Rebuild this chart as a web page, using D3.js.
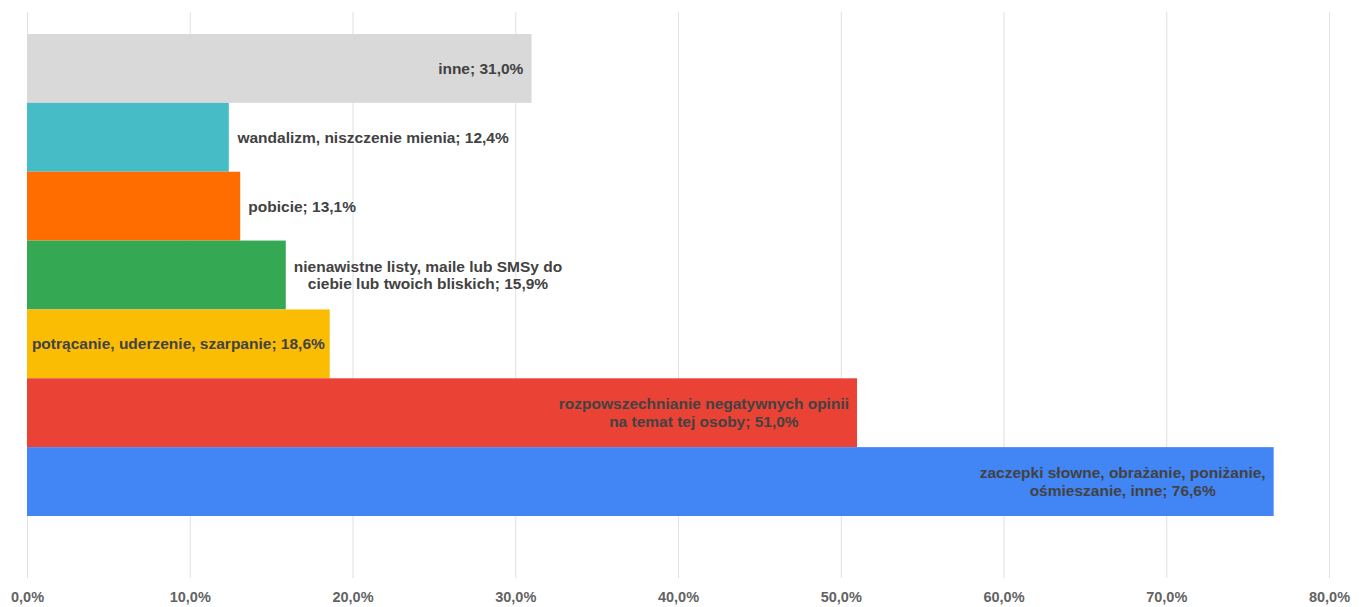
<!DOCTYPE html>
<html>
<head>
<meta charset="utf-8">
<script src="https://cdn.jsdelivr.net/npm/d3@7"></script>
<style>
  body { margin: 0; background: #fff; }
  svg text { font-family: "Liberation Sans", Arial, sans-serif; font-weight: bold; }
</style>
</head>
<body>
<div class="chart-box"></div>
<script>
let width = 1362;
let height = 607;

// categories from top to bottom, label lines as shown on the chart
let categories = [
  "inne",
  "wandalizm, niszczenie mienia",
  "pobicie",
  "nienawistne listy, maile lub SMSy do ciebie lub twoich bliskich",
  "potrącanie, uderzenie, szarpanie",
  "rozpowszechnianie negatywnych opinii na temat tej osoby",
  "zaczepki słowne, obrażanie, poniżanie, ośmieszanie, inne"
];
let labelLines = [
  ["inne; 31,0%"],
  ["wandalizm, niszczenie mienia; 12,4%"],
  ["pobicie; 13,1%"],
  ["nienawistne listy, maile lub SMSy do", "ciebie lub twoich bliskich; 15,9%"],
  ["potrącanie, uderzenie, szarpanie; 18,6%"],
  ["rozpowszechnianie negatywnych opinii", "na temat tej osoby; 51,0%"],
  ["zaczepki słowne, obrażanie, poniżanie,", "ośmieszanie, inne; 76,6%"]
];
let values = [31.0, 12.4, 13.1, 15.9, 18.6, 51.0, 76.6];
let colors = ["#d9d9d9", "#46bdc6", "#ff6d01", "#34a853", "#fbbc04", "#ea4335", "#4285f4"];
let ticks = [0, 10, 20, 30, 40, 50, 60, 70, 80];

let svg = d3.select(".chart-box")
  .append("svg")
  .attr("width", width)
  .attr("height", height);

let x = d3.scaleLinear().domain([0, 80]).range([27, 1329]);
let y = d3.scaleBand().domain(categories).range([34, 516]).padding(0);

// grid
svg.append("g")
  .selectAll("line")
  .data(ticks)
  .enter()
  .append("line")
  .attr("x1", d => x(d) + 0.5)
  .attr("x2", d => x(d) + 0.5)
  .attr("y1", 12)
  .attr("y2", 578)
  .attr("stroke", "#e0e0e0")
  .attr("stroke-width", 1);

// x axis labels
let xAxis = d3.axisBottom(x)
  .tickValues(ticks)
  .tickSize(0)
  .tickPadding(0)
  .tickFormat(d => d3.format(".1f")(d).replace(".", ",") + "%");

let ax = svg.append("g")
  .attr("transform", "translate(0,597)")
  .call(xAxis);
ax.select(".domain").remove();
ax.selectAll("text")
  .attr("dy", "0.35em")
  .style("font-size", "14.5px")
  .style("font-family", "'Liberation Sans', Arial, sans-serif")
  .style("font-weight", "bold")
  .attr("fill", "#636363");

// bars
svg.append("g")
  .selectAll("rect")
  .data(values)
  .enter()
  .append("rect")
  .attr("x", x(0))
  .attr("y", (d, i) => y(categories[i]))
  .attr("width", d => x(d) - x(0))
  .attr("height", y.bandwidth())
  .attr("fill", (d, i) => colors[i]);

// labels: long bars carry the label inside, short ones get it after the bar end
let lineH = 17.5;
let labels = svg.append("g")
  .selectAll("text")
  .data(values)
  .enter()
  .append("text")
  .style("font-size", "15.5px")
  .attr("fill", "#424242")
  .attr("text-anchor", "middle");

labels.each(function (d, i) {
  let t = d3.select(this);
  let lines = labelLines[i];
  let cy = y(categories[i]) + y.bandwidth() / 2;
  lines.forEach((s, k) => {
    t.append("tspan")
      .attr("x", 0)
      .attr("y", cy + (k - (lines.length - 1) / 2) * lineH)
      .attr("dy", "0.35em")
      .text(s);
  });
  let w = this.getBBox().width;
  let barW = x(d) - x(0);
  let cx;
  if (barW < 280) cx = x(d) + 8 + w / 2;
  else if (w + 16 <= barW) cx = x(d) - 8 - w / 2;
  else cx = x(d) - Math.max(0, (barW - w) / 2) - w / 2;
  t.selectAll("tspan").attr("x", cx);
});
</script>
</body>
</html>
